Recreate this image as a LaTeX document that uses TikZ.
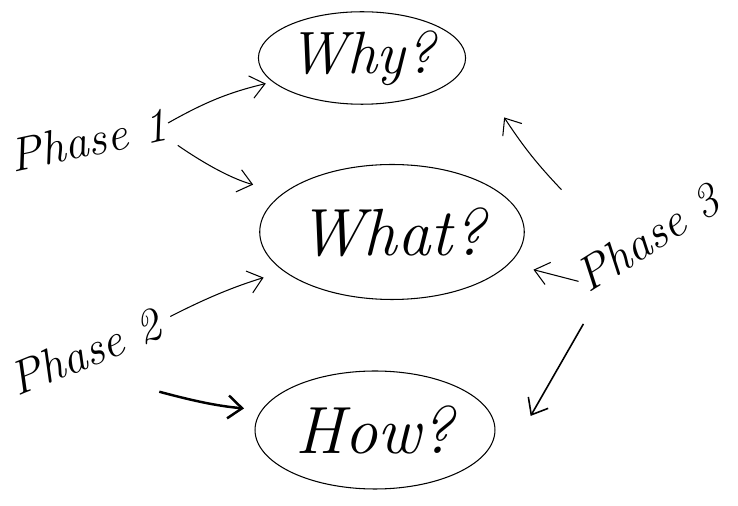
\documentclass[tikz,border=0pt]{standalone}
\usetikzlibrary{shapes.geometric,arrows.meta}

\tikzset{
  question/.style = {draw, ellipse, line width=0.6pt, inner sep=0pt,
                     font=\fontsize{38}{40}\selectfont\itshape},
  phase/.style = {font=\fontsize{27}{30}\selectfont\itshape, inner sep=1pt},
  hand/.style = {-{Straight Barb[length=8pt,width=13pt]}, line width=0.6pt},
}

\begin{document}
\begin{tikzpicture}[x=0.02cm, y=-0.02cm]
\useasboundingbox (0,0) rectangle (738,506);

\node[question, minimum width=3.6cm, minimum height=1.85cm, font=\fontsize{34}{36}\selectfont\itshape] (why) at (362,58) {Why?};
\node[question, minimum width=4.7cm, minimum height=2.7cm] (what) at (392,232) {What?};
\node[question, minimum width=4.8cm, minimum height=2.36cm] (how) at (375,430) {How?};

\node[phase, rotate=12] (phaseA) at (88,140) {Phase 1};
\node[phase, rotate=22] (phaseB) at (85,352) {Phase 2};
\node[phase, rotate=32] (phaseC) at (648,238) {Phase 3};

% phase 1
\draw[hand, shorten >=4pt] (phaseA.east) to[bend left=8] (why.195);
\draw[hand, shorten <=4pt, shorten >=18pt] (phaseA.south east) to[bend right=10] (what.160);
% phase 2
\draw[hand, shorten <=6pt, shorten >=12pt] (phaseB.east) to[bend left=5] (what.200);
\draw[hand, line width=1.4pt, shorten >=10pt] ([shift={(-5pt,-30pt)}]phaseB.south east) to[bend right=5] (how.170);
% phase 3
\draw[hand] ([shift={(-4pt,43pt)}]phaseC.north west) to[bend left=5] ([shift={(39pt,-15pt)}]why.south east);
\draw[hand, shorten >=14pt] (phaseC.west) -- (what.-15);
\draw[hand, line width=0.9pt] ([shift={(-3pt,-15pt)}]phaseC.south west) -- ([shift={(20pt,8pt)}]how.east);
\end{tikzpicture}
\end{document}
